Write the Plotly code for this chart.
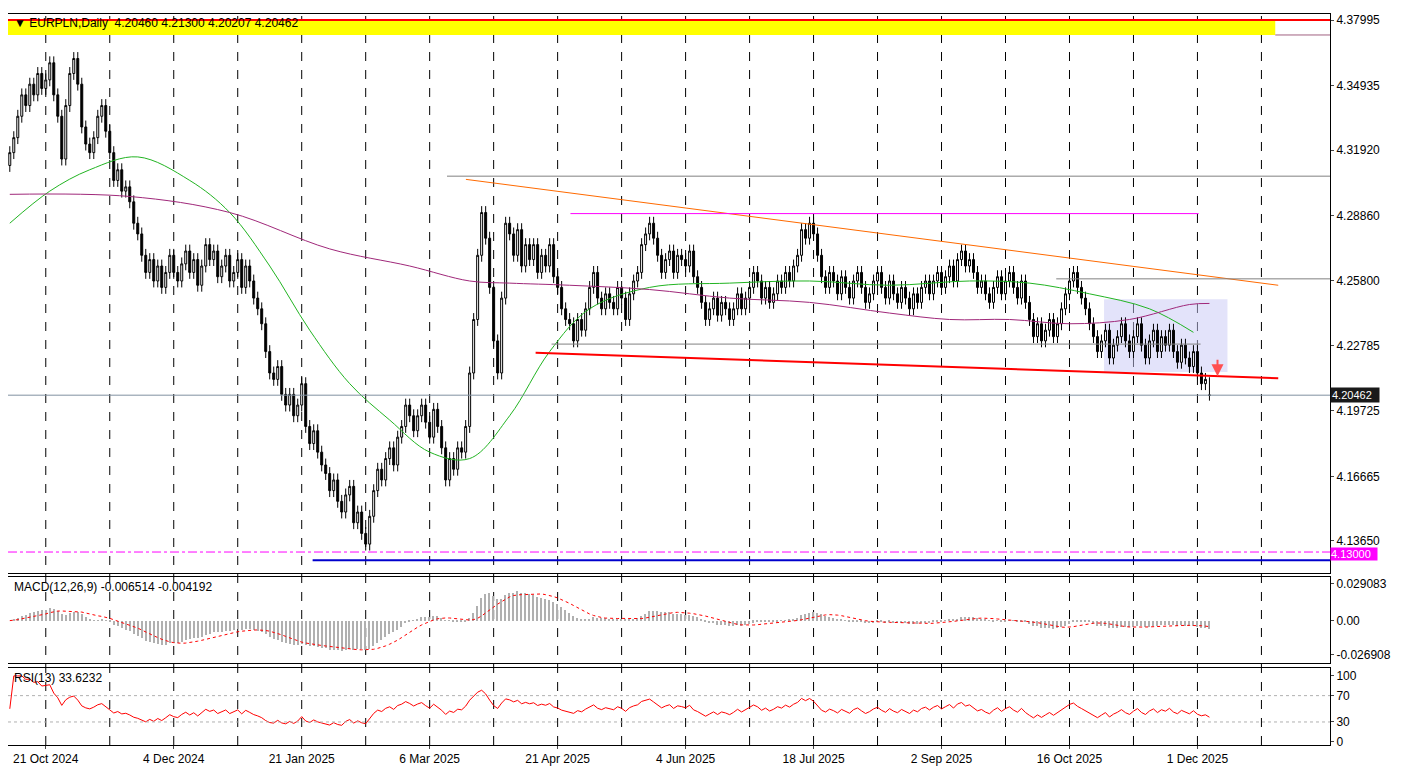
import plotly.graph_objects as go
from plotly.subplots import make_subplots
import pandas as pd
import numpy as np

closes = [
4.318,4.325,4.335,4.345,4.340,4.350,4.345,4.355,4.348,4.352,
4.360,4.345,4.335,4.315,4.340,4.355,4.362,4.350,4.330,4.322,
4.318,4.325,4.335,4.340,4.328,4.318,4.305,4.310,4.300,4.302,
4.295,4.285,4.280,4.270,4.262,4.268,4.258,4.265,4.255,4.262,
4.270,4.262,4.258,4.266,4.272,4.262,4.268,4.256,4.265,4.275,
4.268,4.272,4.260,4.265,4.270,4.258,4.262,4.268,4.255,4.265,
4.258,4.250,4.245,4.238,4.225,4.215,4.212,4.218,4.205,4.200,
4.205,4.195,4.200,4.210,4.190,4.182,4.188,4.178,4.172,4.168,
4.160,4.165,4.155,4.150,4.158,4.162,4.145,4.150,4.140,4.135,
4.148,4.160,4.170,4.165,4.175,4.180,4.172,4.185,4.190,4.200,
4.195,4.188,4.195,4.200,4.192,4.185,4.198,4.190,4.180,4.165,
4.175,4.170,4.180,4.178,4.190,4.215,4.240,4.270,4.290,4.278,
4.255,4.230,4.215,4.250,4.285,4.280,4.270,4.282,4.265,4.275,
4.268,4.275,4.262,4.270,4.265,4.275,4.260,4.255,4.245,4.240,
4.238,4.230,4.240,4.235,4.245,4.255,4.262,4.250,4.245,4.252,
4.248,4.245,4.255,4.250,4.240,4.252,4.258,4.262,4.275,4.280,
4.285,4.278,4.270,4.262,4.268,4.272,4.262,4.270,4.268,4.265,
4.272,4.260,4.255,4.248,4.240,4.245,4.250,4.242,4.248,4.245,
4.240,4.245,4.252,4.245,4.250,4.255,4.262,4.258,4.250,4.255,
4.248,4.252,4.258,4.255,4.262,4.258,4.265,4.270,4.282,4.278,
4.285,4.280,4.270,4.260,4.255,4.262,4.258,4.252,4.260,4.255,
4.250,4.258,4.262,4.255,4.248,4.252,4.258,4.262,4.255,4.250,
4.258,4.252,4.248,4.255,4.250,4.245,4.252,4.248,4.255,4.258,
4.252,4.258,4.262,4.255,4.260,4.265,4.258,4.268,4.272,4.265,
4.268,4.262,4.255,4.258,4.252,4.248,4.255,4.260,4.252,4.258,
4.262,4.255,4.250,4.258,4.248,4.240,4.232,4.238,4.230,4.235,
4.240,4.232,4.238,4.245,4.252,4.258,4.262,4.255,4.250,4.245,
4.238,4.232,4.225,4.230,4.235,4.222,4.228,4.232,4.238,4.230,
4.225,4.232,4.238,4.228,4.222,4.230,4.235,4.225,4.232,4.228,
4.235,4.225,4.220,4.228,4.222,4.218,4.225,4.215,4.210,4.212,
4.20462]
first_open = 4.312
last_bar = dict(o=4.20460, h=4.21300, l=4.20207, c=4.20462)

green_idx = [0,10,20,32,45,55,65,75,85,95,105,115,125,135,145,160,180,200,220,240,255,270,285,296]
green_val = [4.285,4.300,4.310,4.316,4.305,4.290,4.265,4.235,4.210,4.193,4.178,4.175,4.195,4.225,4.245,4.255,4.257,4.258,4.256,4.258,4.257,4.252,4.245,4.234]
purple_idx = [0,30,55,80,100,115,125,140,160,180,200,220,235,250,265,280,295,300]
purple_val = [4.2985,4.2975,4.290,4.273,4.265,4.258,4.257,4.256,4.254,4.250,4.248,4.243,4.240,4.240,4.238,4.240,4.247,4.2475]

tick_idx = [9,41,73,105,137,169,201,233,265,297]
tick_lbl = ["21 Oct 2024","4 Dec 2024","21 Jan 2025","6 Mar 2025","21 Apr 2025","4 Jun 2025",
            "18 Jul 2025","2 Sep 2025","16 Oct 2025","1 Dec 2025"]
price_ticks = [4.37995,4.34935,4.31920,4.28860,4.25800,4.22785,4.19725,4.16665,4.13650]

n = len(closes)
x = list(range(n))
opens = [first_open] + closes[:-1]
opens[-1] = last_bar["o"]
highs = [max(o, c) + 0.003 for o, c in zip(opens, closes)]
lows = [min(o, c) - 0.003 for o, c in zip(opens, closes)]
highs[-1] = last_bar["h"]; lows[-1] = last_bar["l"]

s = pd.Series(closes)
macd = s.ewm(span=12, adjust=False).mean() - s.ewm(span=26, adjust=False).mean()
signal = macd.rolling(9, min_periods=1).mean()
d = s.diff()
up = d.clip(lower=0).ewm(alpha=1/13, adjust=False).mean()
dn = (-d.clip(upper=0)).ewm(alpha=1/13, adjust=False).mean()
rsi = 100 - 100 / (1 + up / dn.replace(0, 1e-9))
rsi.iloc[0] = 50

fig = make_subplots(rows=3, cols=1, shared_xaxes=True)
fig.add_trace(go.Candlestick(x=x, open=opens, high=highs, low=lows, close=closes,
    increasing=dict(line=dict(color="black", width=1), fillcolor="white"),
    decreasing=dict(line=dict(color="black", width=1), fillcolor="black"),
    whiskerwidth=0, showlegend=False), row=1, col=1)
fig.add_trace(go.Scatter(x=green_idx, y=green_val, mode="lines", line=dict(color="#22b422", width=1, shape="spline"), showlegend=False), row=1, col=1)
fig.add_trace(go.Scatter(x=purple_idx, y=purple_val, mode="lines", line=dict(color="#a0287a", width=1, shape="spline"), showlegend=False), row=1, col=1)

fig.add_trace(go.Bar(x=x, y=macd, marker=dict(color="#b0b0b0", line=dict(width=0)), width=0.35, showlegend=False), row=2, col=1)
fig.add_trace(go.Scatter(x=x, y=signal, mode="lines", line=dict(color="red", width=1, dash="dot"), showlegend=False), row=2, col=1)
fig.add_trace(go.Scatter(x=x, y=rsi, mode="lines", line=dict(color="red", width=1), showlegend=False), row=3, col=1)

def px2i(px):
    return (px - 3.8) / 4.017

shapes = []
for k in range(20):
    xi = 9 + 16 * k
    if xi > 330: break
    shapes.append(dict(type="line", xref="x", yref="paper", x0=xi, x1=xi, y0=0, y1=1,
                       line=dict(color="black", width=1, dash="dash"), layer="below"))
def hl(x0, x1, y0, y1, color, width=1, dash="solid"):
    shapes.append(dict(type="line", xref="x", yref="y", x0=x0, x1=x1, y0=y0, y1=y1,
                       line=dict(color=color, width=width, dash=dash)))
L = px2i(2)
R = px2i(1330)
shapes.append(dict(type="rect", xref="x", yref="y", x0=L, x1=px2i(1275), y0=4.3730, y1=4.3800,
                   fillcolor="#ffff00", line=dict(width=0), layer="below"))
hl(L, R, 4.37995, 4.37995, "red", 2)
hl(px2i(1275), R, 4.3730, 4.3730, "#a06080", 1)
hl(px2i(443), R, 4.3070, 4.3070, "#808080", 1)
hl(px2i(462), px2i(1278), 4.3055, 4.2560, "#ff6a00", 1)
hl(px2i(567), px2i(1198), 4.2895, 4.2895, "#ff00ff", 1)
hl(px2i(1055), R, 4.2590, 4.2590, "#808080", 1)
shapes.append(dict(type="rect", xref="x", yref="y", x0=px2i(1103), x1=px2i(1227), y0=4.2155, y1=4.2495,
                   fillcolor="rgba(200,200,245,0.5)", line=dict(width=0), layer="below"))
hl(px2i(548), px2i(1200), 4.2285, 4.2285, "#808080", 1)
hl(px2i(532), px2i(1278), 4.2245, 4.2125, "red", 2)
hl(L, R, 4.20462, 4.20462, "#8090a0", 1)
hl(L, R, 4.1313, 4.1313, "#ff00ff", 1, "dashdot")
hl(px2i(308), R, 4.1275, 4.1275, "#0000cc", 2)
for lv in (30, 70):
    shapes.append(dict(type="line", xref="x", yref="y3", x0=L, x1=R, y0=lv, y1=lv,
                       line=dict(color="#b0b0b0", width=1, dash="dot")))

fnt = dict(family="Liberation Sans, Arial", size=12, color="black")
bfnt = dict(family="Liberation Sans, Arial", size=11, color="white")
ann = [
    dict(xref="paper", yref="paper", x=0.003, y=1.0, xanchor="left", yanchor="top", showarrow=False,
         text="▼ EURPLN,Daily  4.20460 4.21300 4.20207 4.20462", font=fnt),
    dict(xref="paper", yref="paper", x=0.003, y=0.229, xanchor="left", yanchor="top", showarrow=False,
         text="MACD(12,26,9) -0.006514 -0.004192", font=fnt),
    dict(xref="paper", yref="paper", x=0.003, y=0.104, xanchor="left", yanchor="top", showarrow=False,
         text="RSI(13) 33.6232", font=fnt),
    dict(xref="paper", yref="y", x=1.0, y=4.20462, xanchor="left", yanchor="middle", showarrow=False,
         text="4.20462  ", font=bfnt, bgcolor="#1a1a1a", borderpad=1),
    dict(xref="paper", yref="y", x=1.0, y=4.1305, xanchor="left", yanchor="middle", showarrow=False,
         text="4.13000  ", font=bfnt, bgcolor="#ff00ff", borderpad=0),
    dict(xref="x", yref="y", x=px2i(1217), y=4.2135, ax=0, ay=-18, showarrow=True, arrowhead=2,
         arrowsize=1.2, arrowwidth=2, arrowcolor="#ff5050", text=""),
]

H = 731.0
fig.update_layout(width=1394, height=763, margin=dict(l=0, r=72, t=6, b=26),
    paper_bgcolor="white", plot_bgcolor="white", shapes=shapes, annotations=ann,
    font=fnt, bargap=0, showlegend=False)
ax = dict(showline=True, linecolor="black", linewidth=1, mirror=True, showgrid=False, zeroline=False,
          range=[L, R], rangeslider=dict(visible=False))
fig.update_xaxes(**ax)
fig.update_xaxes(showticklabels=False, row=1, col=1)
fig.update_xaxes(showticklabels=False, row=2, col=1)
fig.update_xaxes(tickvals=tick_idx, ticktext=tick_lbl, ticks="outside", ticklen=3, row=3, col=1)
yax = dict(side="right", showline=True, linecolor="black", mirror=True, showgrid=False, zeroline=False,
           ticks="outside", ticklen=3, tickfont=fnt)
fig.update_yaxes(**yax)
fig.update_yaxes(range=[4.1215, 4.3828], tickvals=price_ticks, ticktext=[f"{v:.5f}" for v in price_ticks],
                 domain=[(745-573)/H, 1], row=1, col=1)
fig.update_yaxes(range=[-0.0335, 0.0345], tickvals=[0.029083, 0.0, -0.026908],
                 ticktext=["0.029083", "0.00", "-0.026908"], domain=[(745-663)/H, (745-577)/H], row=2, col=1)
fig.update_yaxes(range=[-5, 112], tickvals=[0, 30, 70, 100], domain=[0, 77/H], row=3, col=1)
fig.write_html("out.html")
